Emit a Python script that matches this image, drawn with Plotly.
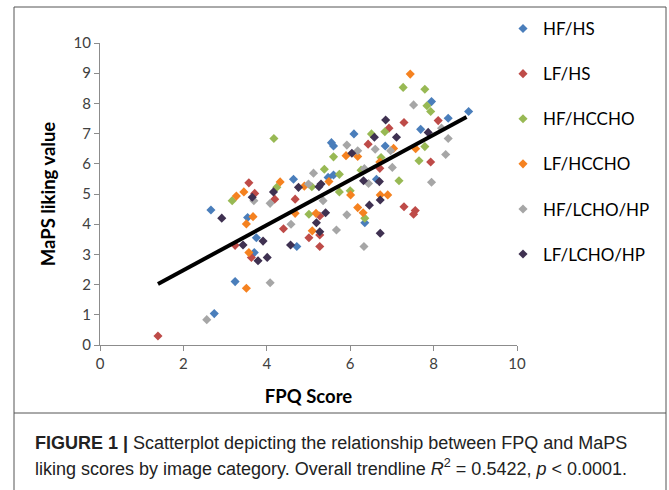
import plotly.graph_objects as go

series_names = ["HF/HS", "LF/HS", "HF/HCCHO", "LF/HCCHO", "HF/LCHO/HP", "LF/LCHO/HP"]
series_colors = ["#4A7EBB", "#BE4B48", "#98B954", "#F58220", "#A6A6A6", "#3F3151"]

hf_hs_x = [2.74, 2.66, 3.24, 3.54, 3.75, 3.70, 4.64, 4.72, 5.47, 5.55, 5.60, 5.60, 6.09, 6.35, 6.63, 6.84, 7.69, 7.95, 8.35, 8.84]
hf_hs_y = [1.04, 4.47, 2.10, 4.22, 3.55, 3.06, 5.49, 3.26, 5.55, 6.70, 6.59, 5.63, 6.99, 4.05, 5.49, 6.59, 7.14, 8.06, 7.51, 7.73]

lf_hs_x = [1.39, 3.24, 3.57, 3.71, 3.63, 4.19, 4.40, 4.68, 5.01, 5.27, 5.27, 5.27, 6.43, 6.71, 6.93, 7.29, 7.29, 7.56, 7.52, 7.93, 8.11]
lf_hs_y = [0.30, 3.30, 5.37, 5.02, 2.90, 4.83, 3.85, 4.83, 3.55, 4.27, 3.64, 3.26, 6.65, 5.85, 7.18, 7.37, 4.58, 4.45, 4.33, 6.06, 7.43]

hf_hccho_x = [3.17, 4.17, 4.24, 5.01, 5.08, 5.38, 5.60, 5.74, 5.74, 6.00, 6.26, 6.35, 6.51, 6.74, 6.83, 7.17, 7.27, 7.65, 7.79, 7.79, 7.84, 7.93]
hf_hccho_y = [4.78, 6.84, 5.22, 4.33, 5.24, 5.82, 6.23, 5.65, 5.07, 5.11, 5.79, 4.20, 6.99, 6.21, 7.06, 5.44, 8.53, 6.10, 6.57, 8.47, 7.92, 7.73]

lf_hccho_x = [3.27, 3.45, 3.51, 3.67, 3.57, 3.51, 4.32, 4.68, 4.90, 5.09, 5.18, 5.49, 5.90, 6.01, 6.18, 6.18, 6.31, 6.72, 6.90, 6.71, 7.04, 7.44, 7.57]
lf_hccho_y = [4.93, 5.07, 4.01, 4.25, 3.06, 1.88, 5.40, 4.36, 5.26, 3.78, 4.36, 5.41, 6.27, 4.97, 6.24, 4.55, 4.38, 4.97, 4.97, 6.06, 6.51, 8.97, 6.50]

hf_lcho_hp_x = [2.56, 3.69, 4.08, 4.08, 4.58, 5.00, 5.12, 5.35, 5.67, 5.92, 5.92, 6.18, 6.33, 6.34, 6.44, 6.60, 6.97, 7.01, 7.52, 7.95, 8.19, 8.29, 8.35]
hf_lcho_hp_y = [0.84, 4.78, 4.69, 2.06, 4.00, 5.33, 5.69, 4.78, 3.81, 6.62, 4.31, 6.43, 3.26, 5.84, 5.35, 6.48, 6.43, 5.88, 7.95, 5.39, 7.18, 6.31, 6.84]

lf_lcho_hp_x = [2.92, 3.43, 3.65, 3.79, 3.91, 4.01, 4.16, 4.57, 4.76, 5.19, 5.25, 5.30, 5.41, 5.27, 6.04, 6.32, 6.46, 6.58, 6.70, 6.72, 6.72, 6.85, 7.11, 7.87]
lf_lcho_hp_y = [4.20, 3.31, 4.89, 2.79, 3.44, 2.90, 5.07, 3.31, 5.22, 4.05, 5.24, 5.33, 4.38, 3.75, 6.35, 5.44, 4.63, 6.88, 5.41, 4.80, 3.70, 7.45, 6.88, 7.04]

trend_x = [1.39, 8.79]
trend_y = [2.02, 7.55]

x_ticks = [0, 2, 4, 6, 8, 10]
y_ticks = [0, 1, 2, 3, 4, 5, 6, 7, 8, 9, 10]

all_x = [hf_hs_x, lf_hs_x, hf_hccho_x, lf_hccho_x, hf_lcho_hp_x, lf_lcho_hp_x]
all_y = [hf_hs_y, lf_hs_y, hf_hccho_y, lf_hccho_y, hf_lcho_hp_y, lf_lcho_hp_y]

W, H = 669, 490
L, R, T, B = 100, 517, 43, 345

fig = go.Figure()
for i, (name, col) in enumerate(zip(series_names, series_colors)):
    fig.add_trace(go.Scatter(
        x=all_x[i], y=all_y[i], mode="markers", name=name,
        legendgroup=name,
        marker=dict(symbol="diamond", size=7, color=col, line=dict(width=0)),
    ))

fig.add_trace(go.Scatter(x=trend_x, y=trend_y, mode="lines", showlegend=False,
                         line=dict(color="black", width=4)))


def px_x(v):
    return v / W


def px_y(v):
    return 1 - v / H


axis_font = dict(family="Lato, Open Sans, sans-serif", size=15, color="#404040")
title_font = dict(family="Lato, Open Sans, sans-serif", size=18.5, color="#000")
fig.update_layout(
    width=W, height=H,
    margin=dict(l=0, r=0, t=0, b=0, autoexpand=False),
    paper_bgcolor="white", plot_bgcolor="white",
    showlegend=True,
    legend=dict(
        x=px_x(503), y=px_y(11), xanchor="left", yanchor="top",
        font=dict(family="Lato, Open Sans, sans-serif", size=17, color="#000000"),
        traceorder="grouped", tracegroupgap=20, itemwidth=30,
        bgcolor="rgba(0,0,0,0)", maxheight=0.95,
    ),
    xaxis=dict(domain=[px_x(L), px_x(R)], range=[0, 10], tickvals=x_ticks,
               showgrid=False, zeroline=False, automargin=False,
               showline=True, linecolor="#8C8C8C", linewidth=1,
               ticks="outside", ticklen=5, tickcolor="#8C8C8C",
               tickfont=axis_font,
               title=dict(text="<b>FPQ Score</b>", font=title_font, standoff=19)),
    yaxis=dict(domain=[px_y(B), px_y(T)], range=[0, 10], tickvals=y_ticks,
               showgrid=False, zeroline=False, automargin=False,
               showline=True, linecolor="#8C8C8C", linewidth=1,
               ticks="outside", ticklen=5, tickcolor="#8C8C8C",
               tickfont=axis_font,
               title=dict(text="<b>MaPS liking value</b>", font=title_font, standoff=13)),
)

# outer frame lines
frame = dict(type="line", xref="paper", yref="paper", line=dict(color="#555555", width=1))
fig.add_shape(**frame, x0=px_x(14), x1=px_x(14), y0=px_y(7), y1=px_y(490))
fig.add_shape(**frame, x0=px_x(666), x1=px_x(666), y0=px_y(7), y1=px_y(490))
fig.add_shape(**frame, x0=px_x(14), x1=px_x(666), y0=px_y(7), y1=px_y(7))
fig.add_shape(**frame, x0=px_x(14), x1=px_x(666), y0=px_y(413), y1=px_y(413))

cap_font = dict(family="Liberation Sans Narrow, Arial Narrow, Liberation Sans, sans-serif", size=18, color="#222")
fig.add_annotation(xref="paper", yref="paper", x=px_x(33), y=px_y(443), xanchor="left", yanchor="middle",
                   showarrow=False, font=cap_font,
                   text="<b>FIGURE 1 |</b> Scatterplot depicting the relationship between FPQ and MaPS")
fig.add_annotation(xref="paper", yref="paper", x=px_x(33), y=px_y(467), xanchor="left", yanchor="middle",
                   showarrow=False, font=cap_font,
                   text="liking scores by image category. Overall trendline <i>R</i><sup>2</sup> = 0.5422, <i>p</i> &lt; 0.0001.")

fig.write_html("out.html", config={"displayModeBar": False},
               post_script="document.body.style.margin='0px';")
